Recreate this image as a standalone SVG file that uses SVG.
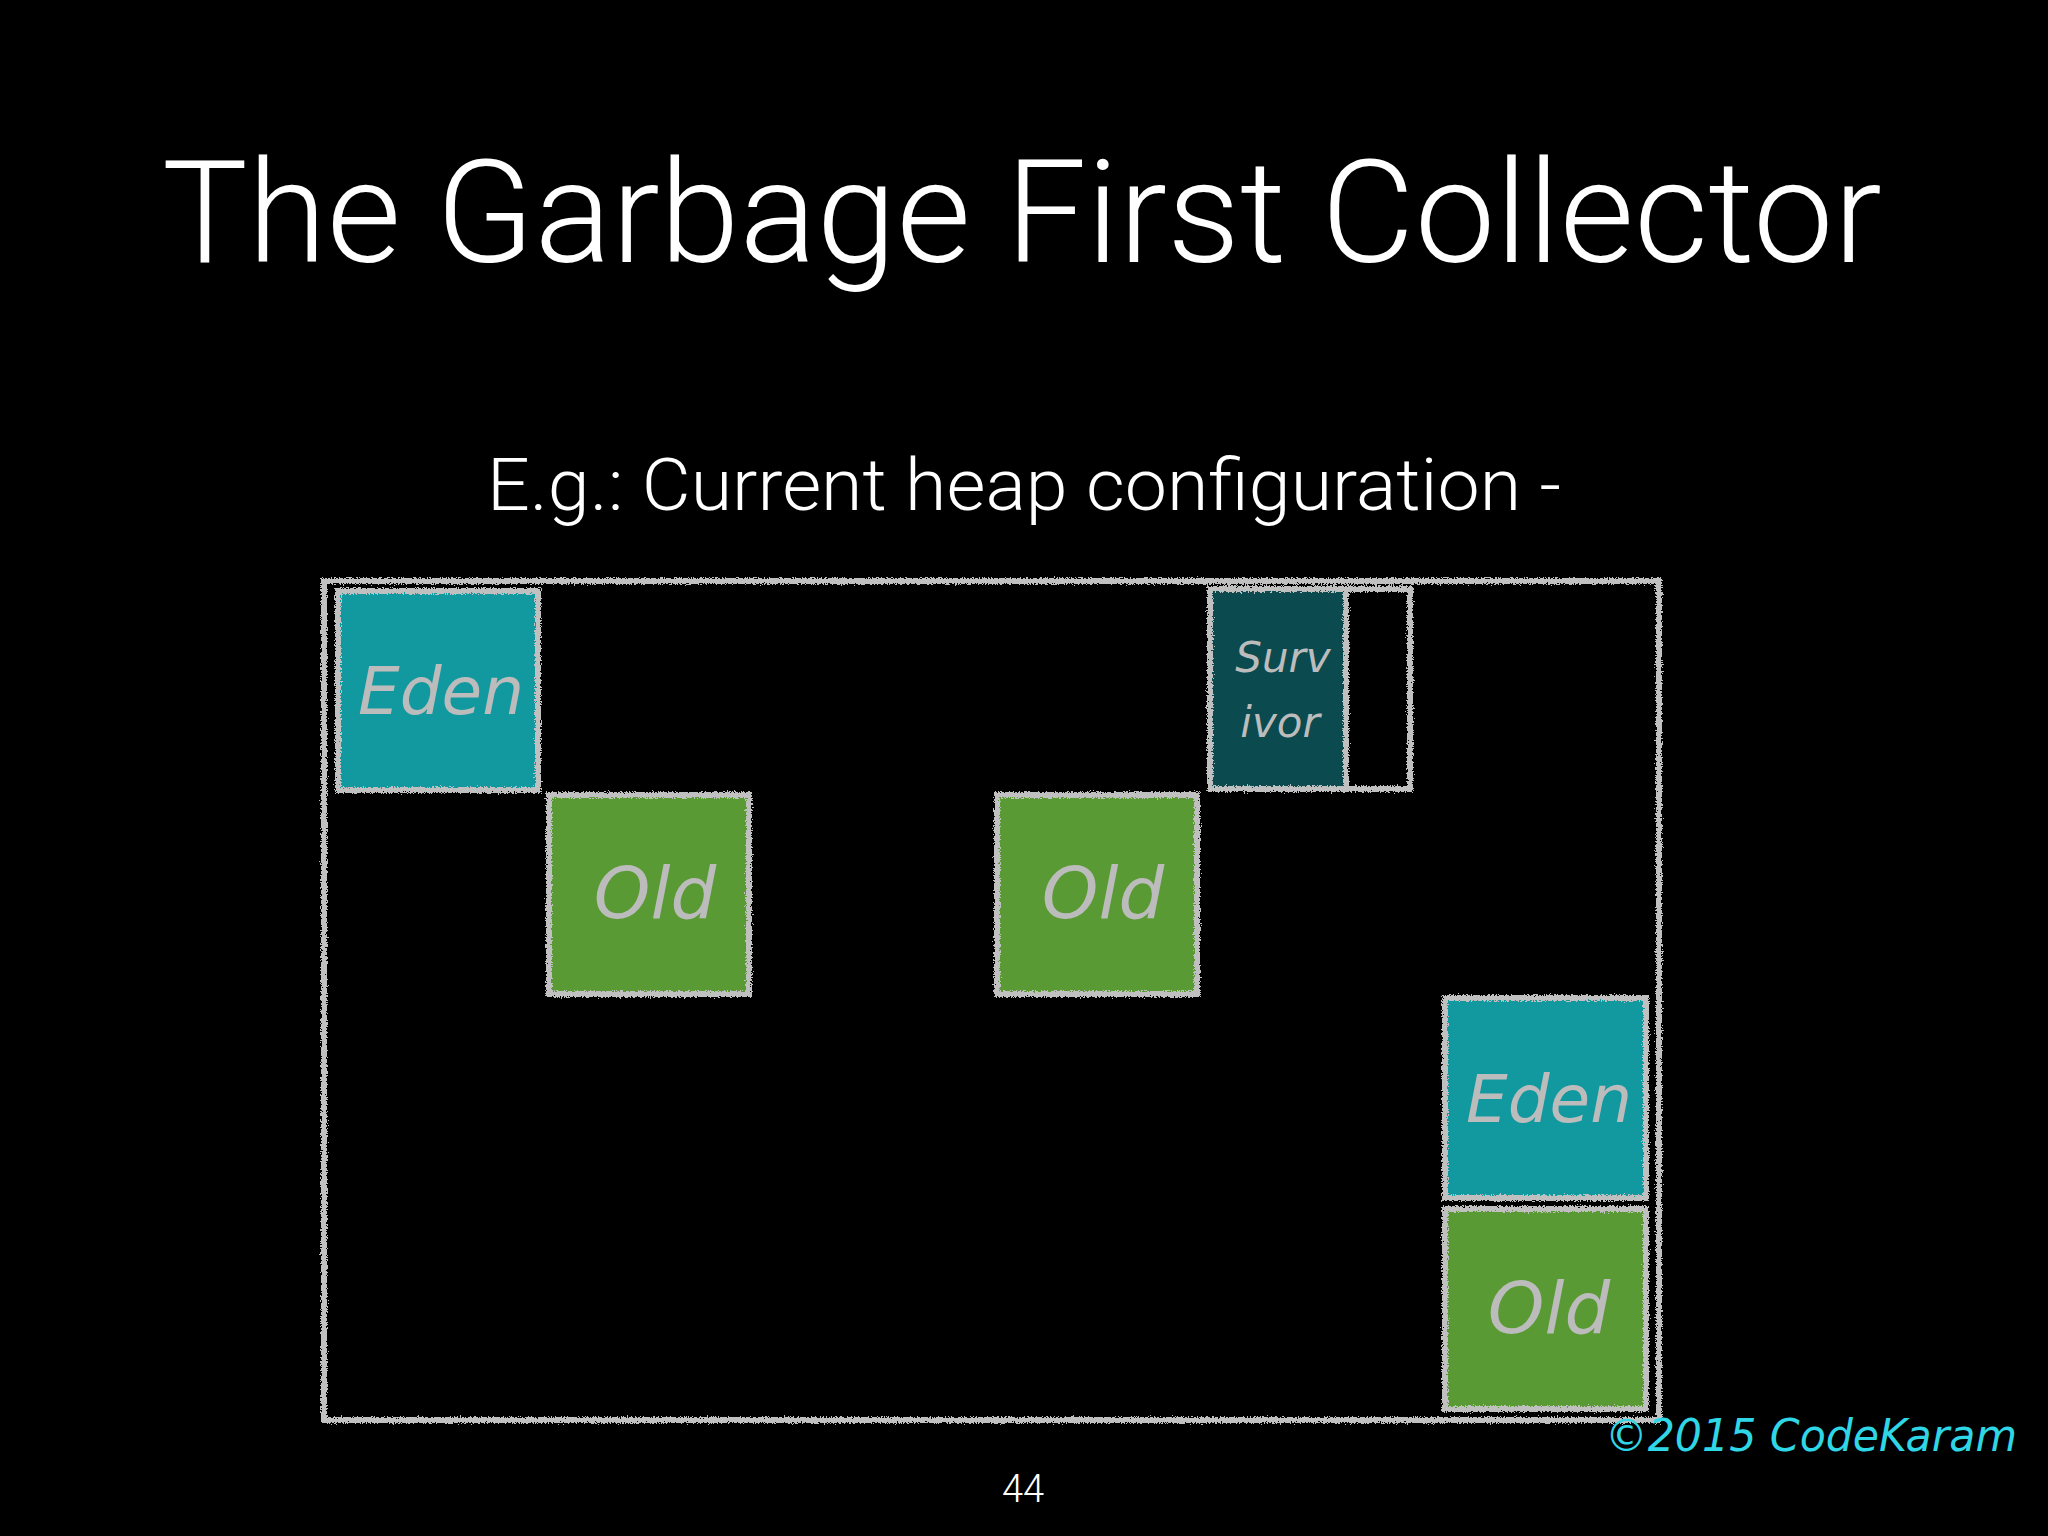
<svg xmlns="http://www.w3.org/2000/svg" width="2048" height="1536" viewBox="0 0 2048 1536">
<defs>
<filter id="chalk" x="-5%" y="-5%" width="110%" height="110%">
<feTurbulence type="fractalNoise" baseFrequency="0.7" numOctaves="2" seed="3" result="n"/>
<feDisplacementMap in="SourceGraphic" in2="n" scale="6" xChannelSelector="R" yChannelSelector="G"/>
</filter>
<style>
.title{font-family:Roboto,"Liberation Sans",sans-serif;font-weight:300;fill:#ffffff}
.chalk{fill:none;stroke:#c0c0c0;stroke-width:6;filter:url(#chalk)}
.eden{fill:#11999f}
.old{fill:#5a9a34}
.surv{fill:#0b4a4e}
.hand{font-family:"DejaVu Sans",sans-serif;font-weight:200;font-style:oblique;fill:#bcbcbc;text-anchor:middle}
</style>
</defs>
<rect width="2048" height="1536" fill="#000000"/>
<text class="title" x="1022" y="262" font-size="142" text-anchor="middle" textLength="1720" lengthAdjust="spacingAndGlyphs">The Garbage First Collector</text>
<text class="title" x="1024" y="510" font-size="72" text-anchor="middle" textLength="1074" lengthAdjust="spacingAndGlyphs">E.g.: Current heap configuration -</text>
<g id="heap">
<rect class="chalk" x="324" y="581" width="1335" height="839"/>
</g>
<g id="eden1">
<rect class="eden" x="338" y="591" width="200" height="199"/>
<rect class="chalk" x="338" y="591" width="200" height="199"/>
<text class="hand" x="441" y="714" font-size="66">Eden</text>
</g>
<g id="old1">
<rect class="old" x="549" y="795" width="200" height="199"/>
<rect class="chalk" x="549" y="795" width="200" height="199"/>
<text class="hand" x="655" y="918" font-size="72">Old</text>
</g>
<g id="old2">
<rect class="old" x="997" y="795" width="200" height="199"/>
<rect class="chalk" x="997" y="795" width="200" height="199"/>
<text class="hand" x="1103" y="918" font-size="72">Old</text>
</g>
<g id="survivor">
<rect class="chalk" x="1210" y="589" width="200" height="200"/>
<rect class="surv" x="1210" y="589" width="136" height="200"/>
<rect class="chalk" x="1210" y="589" width="136" height="200"/>
<text class="hand" x="1283" y="672" font-size="42">Surv</text>
<text class="hand" x="1280" y="737" font-size="42">ivor</text>
</g>
<g id="eden2">
<rect class="eden" x="1445" y="998" width="201" height="200"/>
<rect class="chalk" x="1445" y="998" width="201" height="200"/>
<text class="hand" x="1549" y="1122" font-size="66">Eden</text>
</g>
<g id="old3">
<rect class="old" x="1445" y="1209" width="201" height="200"/>
<rect class="chalk" x="1445" y="1209" width="201" height="200"/>
<text class="hand" x="1549" y="1333" font-size="72">Old</text>
</g>
<g id="connectors"></g>
<text x="1811" y="1451" font-family="&quot;DejaVu Sans&quot;,sans-serif" font-weight="200" font-style="oblique" font-size="44" fill="#2fd6e6" text-anchor="middle" textLength="412" lengthAdjust="spacingAndGlyphs">©2015 CodeKaram</text>
<text x="1023" y="1502" font-family="Roboto,&quot;Liberation Sans&quot;,sans-serif" font-weight="300" font-size="38" fill="#ffffff" text-anchor="middle">44</text>
</svg>
